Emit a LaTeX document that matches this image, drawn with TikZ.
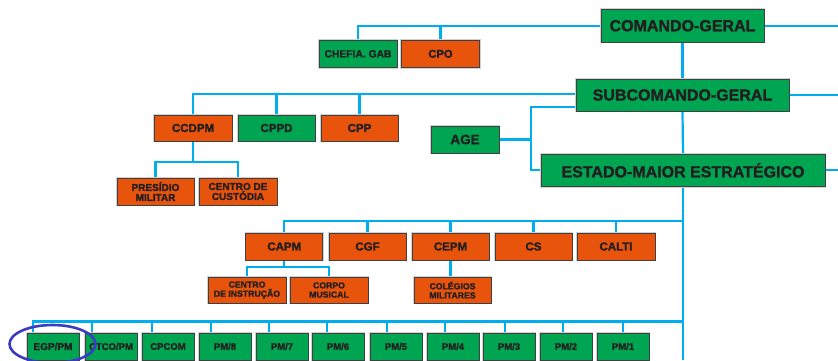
\documentclass[tikz,border=0pt]{standalone}
\usepackage{fontspec}
\setmainfont{Liberation Sans}[BoldFont={Liberation Sans Bold}, BoldFeatures={FakeBold=1.6}]
\usetikzlibrary{backgrounds,calc}
\definecolor{gr}{HTML}{00A551}
\definecolor{orn}{HTML}{E8540C}
\definecolor{cy}{HTML}{00AEEF}
\definecolor{ink}{HTML}{231F20}
\definecolor{ring}{HTML}{3C3CC0}
\tikzset{
  box/.style={draw=black!75, line width=0.8pt, preaction={draw=black!18, line width=2.6pt},
    inner sep=0pt, text=ink, align=center},
  g/.style={box, fill=gr}, o/.style={box, fill=orn},
  big/.style={font=\bfseries\fontsize{16}{16}\selectfont},
  mid/.style={font=\bfseries\fontsize{11.5}{11.5}\selectfont, minimum width=77pt, minimum height=27pt},
  sml/.style={font=\bfseries\fontsize{8.7}{9.2}\selectfont, minimum width=78pt, minimum height=26pt},
  bot/.style={g, font=\bfseries\fontsize{9.5}{9.5}\selectfont, minimum width=52pt, minimum height=27pt},
  wire/.style={draw=cy, line width=2.2pt},
}
\begin{document}
\begin{tikzpicture}[x=1pt, y=-1pt]
\useasboundingbox (0,0) rectangle (838,360);
\clip (0,0) rectangle (838,360);
\coordinate (R) at (838,0);
\coordinate (B) at (0,360);
\coordinate (jv) at (531,0);
\coordinate (b3) at (0,221);
\coordinate (b5) at (0,321.5);
\coordinate (j2) at (0,162);
\coordinate (j4) at (0,267);

% top levels
\node[g, big, minimum width=163pt, minimum height=32.5pt] (cg) at (682.5,25.75) {COMANDO-GERAL};
\node[g, font=\bfseries\fontsize{10.3}{10.3}\selectfont, minimum width=78pt, minimum height=27.5pt] (chefia) at (358,53.8) {CHEFIA. GAB};
\node[o, font=\bfseries\fontsize{11.2}{11.2}\selectfont, minimum width=78pt, minimum height=27.5pt] (cpo) at (440.5,53.8) {CPO};
\node[g, big, minimum width=213pt, minimum height=32pt] (sub) at (682.5,95) {SUBCOMANDO-GERAL};
\coordinate (sl) at ([yshift=1pt]sub.west);

\node[o, mid, minimum height=26pt, minimum width=78pt] (ccdpm) at (193,128) {CCDPM};
\node[g, mid, minimum height=26pt] (cppd) at (276.5,128) {CPPD};
\node[o, mid, minimum height=26pt] (cpp) at (359.5,128) {CPP};
\node[o, font=\bfseries\fontsize{10}{10}\selectfont, minimum width=77pt, minimum height=27pt] (pres) at (155.5,191.5) {PRESÍDIO\\MILITAR};
\node[o, font=\bfseries\fontsize{10}{10}\selectfont, minimum width=78pt, minimum height=27pt] (cust) at (238,191.5) {CENTRO DE\\CUSTÓDIA};

\node[g, font=\bfseries\fontsize{13.5}{13.5}\selectfont, minimum width=68pt, minimum height=27pt] (age) at (465,139.5) {AGE};
\node[g, big, minimum width=284pt, minimum height=32.5pt] (ems) at (683,170.3) {ESTADO-MAIOR ESTRATÉGICO};

% third level
\node[o, mid] (capm) at (284.3,246.5) {CAPM};
\node[o, mid] (cgf) at (367.5,246.5) {CGF};
\node[o, mid] (cepm) at (450.5,246.5) {CEPM};
\node[o, mid] (cs) at (533.5,246.5) {CS};
\node[o, mid, minimum width=78pt] (calti) at (616,246.5) {CALTI};
\node[o, sml] (ci) at (247,290) {CENTRO\\DE INSTRUÇÃO};
\node[o, sml] (cm) at (329,290) {CORPO\\MUSICAL};
\node[o, sml, minimum width=77pt] (col) at (452.5,290) {COLÉGIOS\\MILITARES};

% bottom row
\node[bot, font=\bfseries\fontsize{10}{10}\selectfont] (egp) at (53,346.5) {EGP/PM};
\node[bot] (ctco) at (111,346.5) {CTCO/PM};
\node[bot] (cpcom) at (168,346.5) {CPCOM};
\node[bot] (pm8) at (225,346.5) {PM/8};
\node[bot] (pm7) at (282,346.5) {PM/7};
\node[bot] (pm6) at (338,346.5) {PM/6};
\node[bot] (pm5) at (396,346.5) {PM/5};
\node[bot] (pm4) at (453,346.5) {PM/4};
\node[bot] (pm3) at (509,346.5) {PM/3};
\node[bot] (pm2) at (566,346.5) {PM/2};
\node[bot] (pm1) at (623,346.5) {PM/1};

\begin{scope}[on background layer]
  \draw[wire] (chefia.north) |- (cg.west);
  \draw[wire] (cpo.north) -- (cpo.north |- cg.west);
  \draw[wire] (cg.east) -- (cg.east -| R);
  \draw[wire] (cg.south) -- (sub.north);
  \draw[wire] (ccdpm.north) |- (sl);
  \draw[wire] (cppd.north) -- (cppd.north |- sl);
  \draw[wire] (cpp.north) -- (cpp.north |- sl);
  \draw[wire] (sub.east) -- (sub.east -| R);
  \draw[wire] ([yshift=-12pt]sub.west) -| (jv |- ems.west) -- (ems.west);
  \draw[wire] (age.east) -- (age.east -| jv);
  \draw[wire] (sub.south) -- (ems.north);
  \draw[wire] (ems.east) -- (ems.east -| R);
  \draw[wire] (ems.south) -- (ems.south |- B);
  % CCDPM children
  \draw[wire] (ccdpm.south) -- (ccdpm.south |- j2);
  \draw[wire] (pres.north) |- (cust.north |- j2) -- (cust.north);
  % third level bus
  \draw[wire] (capm.north) |- (ems.south |- b3);
  \foreach \n in {cgf,cepm,cs,calti} \draw[wire] (\n.north) -- (\n.north |- b3);
  \draw[wire] (capm.south) -- (capm.south |- j4);
  \draw[wire] (ci.north) |- (cm.north |- j4) -- (cm.north);
  \draw[wire] (cepm.south) -- (cepm.south |- col.north);
  % bottom bus
  \draw[wire] ([xshift=6pt]egp.north west) |- (ems.south |- b5);
  \foreach \n/\d in {ctco/7,cpcom/10,pm8/12,pm7/13,pm6/15,pm5/17,pm4/18,pm3/22,pm2/23,pm1/26}
    \draw[wire] ([xshift=\d pt]\n.north west) -- ([xshift=\d pt]\n.north west |- b5);
\end{scope}

\draw[ring, line width=2.6pt] (52.5,344) ellipse [x radius=43, y radius=19];
\end{tikzpicture}
\end{document}
